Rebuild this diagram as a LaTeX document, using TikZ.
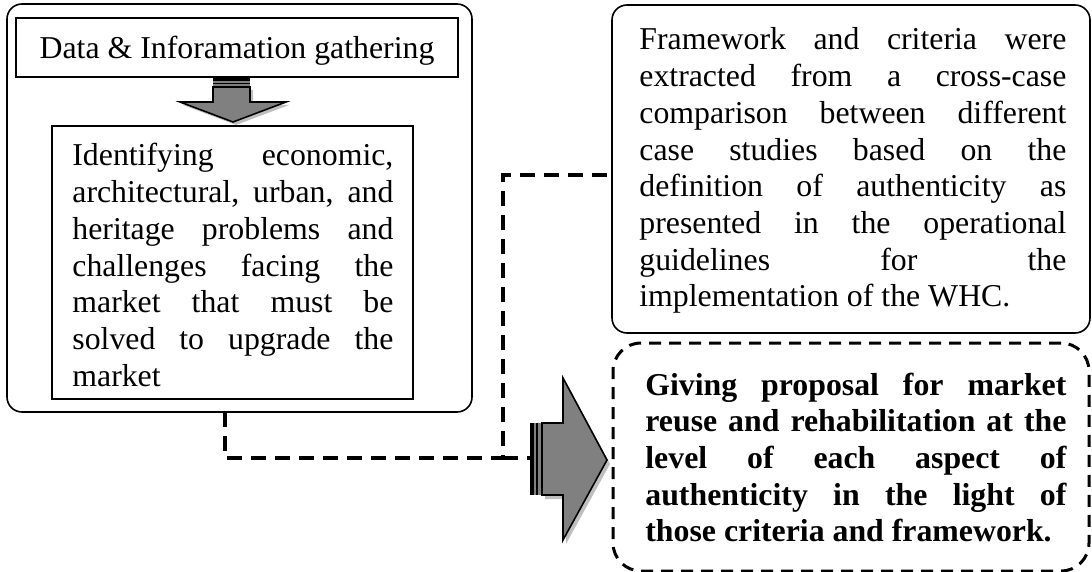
\documentclass[tikz,border=0pt]{standalone}
\usepackage{fontspec}
\setmainfont{Liberation Serif}
\newcommand{\jl}[2]{\makebox[#1][s]{#2}}
\tikzset{
  box/.style={draw=black, line width=0.8pt, inner sep=0pt},
  rbox/.style={box, rounded corners=7.5pt},
  dbox/.style={draw=black, line width=1.5pt, dash pattern=on 6pt off 4pt, rounded corners=14pt, inner sep=0pt},
  conn/.style={draw=black, line width=1.7pt, dash pattern=on 7.5pt off 4.5pt},
  txt/.style={anchor=base west, inner sep=0pt},
  arrbody/.style={fill=black!50, draw=black, line width=0.8pt},
  arrshadow/.style={fill=black!25},
}
\begin{document}
\begin{tikzpicture}[x=0.5pt,y=-0.5pt]
\useasboundingbox (0,0) rectangle (1092,572);
\fontsize{15.9pt}{18.35pt}\selectfont
% left group
\node[rbox, minimum width=232.5pt, minimum height=204pt] (outer) at (239.5,208) {};
\node[box, minimum width=221pt, minimum height=29.5pt] (data) at (237,47.5) {};
\node[anchor=base, inner sep=0pt] (datatext) at (237,59) {Data \& Inforamation gathering};
\node[box, minimum width=180.5pt, minimum height=136.5pt] (inner) at (232.5,262.5) {};
\node[txt] (innertext) at (72,166) {\vtop{\baselineskip=18.35pt
  \hbox{\jl{160.5pt}{Identifying economic,}}
  \hbox{\jl{160.5pt}{architectural, urban, and}}
  \hbox{\jl{160.5pt}{heritage problems and}}
  \hbox{\jl{160.5pt}{challenges facing the}}
  \hbox{\jl{160.5pt}{market that must be}}
  \hbox{\jl{160.5pt}{solved to upgrade the}}
  \hbox{market}}};
% down arrow
\begin{scope}[shift={(3,3)}]
  \fill[arrshadow] (213,87) -- (250,87) -- (250,102) -- (286,102) -- (233,122) -- (180,102) -- (213,102) -- cycle;
\end{scope}
\fill[black] (213,78) rectangle (250,81);
\fill[black!50] (213,81) rectangle (250,83);
\fill[black] (213,83) rectangle (250,84.5);
\fill[black!50] (213,84.5) rectangle (250,86.5);
\path[arrbody] (213,87) -- (250,87) -- (250,102) -- (286,102) -- (233,122) -- (180,102) -- (213,102) -- cycle;
% right top box
\node[rbox, minimum width=239pt, minimum height=164pt] (fw) at (851,169) {};
\node[txt] (fwtext) at (639,50) {\vtop{\baselineskip=18.35pt
  \hbox{\jl{213.5pt}{Framework and criteria were}}
  \hbox{\jl{213.5pt}{extracted from a cross-case}}
  \hbox{\jl{213.5pt}{comparison between different}}
  \hbox{\jl{213.5pt}{case studies based on the}}
  \hbox{\jl{213.5pt}{definition of authenticity as}}
  \hbox{\jl{213.5pt}{presented in the operational}}
  \hbox{\jl{213.5pt}{guidelines for the}}
  \hbox{implementation of the WHC.}}};
% bold dashed box
\node[dbox, minimum width=238pt, minimum height=114pt] (prop) at (851,457) {};
\node[txt] (proptext) at (645,395) {\bfseries\vtop{\baselineskip=18.35pt
  \hbox{\jl{210.5pt}{Giving proposal for market}}
  \hbox{\jl{210.5pt}{reuse and rehabilitation at the}}
  \hbox{\jl{210.5pt}{level of each aspect of}}
  \hbox{\jl{210.5pt}{authenticity in the light of}}
  \hbox{those criteria and framework.}}};
% right arrow
\begin{scope}[shift={(3,4)}]
  \fill[arrshadow] (542,423) -- (563,423) -- (563,378) -- (607,460) -- (563,540) -- (563,495) -- (542,495) -- cycle;
\end{scope}
\fill[black] (530,423) rectangle (533.5,495);
\fill[black!50] (533.5,423) rectangle (536,495);
\fill[black] (536,423) rectangle (537.5,495);
\fill[black!50] (537.5,423) rectangle (541.5,495);
\path[arrbody] (542,423) -- (563,423) -- (563,378) -- (607,460) -- (563,540) -- (563,495) -- (542,495) -- cycle;
\coordinate (rarr) at (530,458);
% connectors
\coordinate (start) at (225,412);
\coordinate (j) at (503,458);
\coordinate (k) at (503,175);
\draw[conn] (start) |- (j) -- (k) -- (k -| fw.west);
\draw[conn] (j) -- (rarr);
\end{tikzpicture}
\end{document}
